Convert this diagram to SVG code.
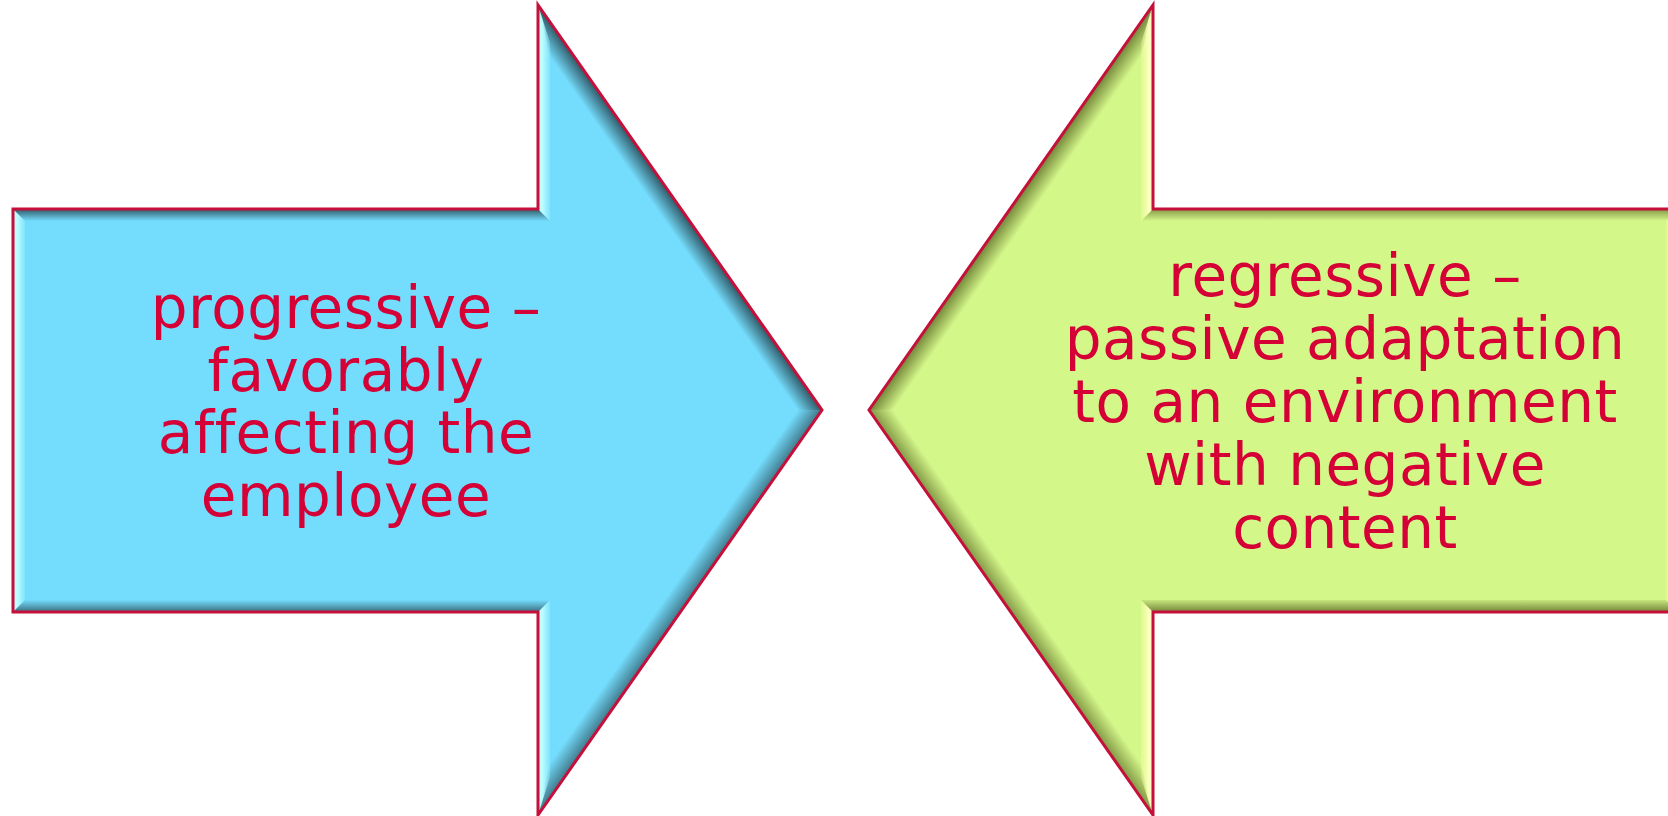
<svg xmlns="http://www.w3.org/2000/svg" width="1668" height="816" viewBox="0 0 1668 816">
  <style>
    .outline { fill: none; stroke: #c4103a; stroke-width: 3; stroke-linejoin: miter; }
    .label { font-family: "DejaVu Sans", "Liberation Sans", sans-serif; font-size: 58px; letter-spacing: 0.5px; fill: #d40036; text-anchor: middle; }
  </style>
  <defs>
    <linearGradient id="bLightL" gradientUnits="userSpaceOnUse" x1="13" y1="0" x2="26" y2="0">
      <stop offset="0" stop-color="#e0ffff" stop-opacity="0.8"/>
      <stop offset="0.35" stop-color="#c0ffff" stop-opacity="0.95"/>
      <stop offset="1" stop-color="#a0f8ff" stop-opacity="0.2"/>
    </linearGradient>
    <linearGradient id="bLightH" gradientUnits="userSpaceOnUse" x1="538" y1="0" x2="551" y2="0">
      <stop offset="0" stop-color="#e0ffff" stop-opacity="0.8"/>
      <stop offset="0.35" stop-color="#c0ffff" stop-opacity="0.95"/>
      <stop offset="1" stop-color="#a0f8ff" stop-opacity="0.2"/>
    </linearGradient>
    <linearGradient id="darkTop" gradientUnits="userSpaceOnUse" x1="0" y1="209" x2="0" y2="221">
      <stop offset="0" stop-color="#000" stop-opacity="0.6"/>
      <stop offset="1" stop-color="#000" stop-opacity="0"/>
    </linearGradient>
    <linearGradient id="darkBot" gradientUnits="userSpaceOnUse" x1="0" y1="612" x2="0" y2="600">
      <stop offset="0" stop-color="#000" stop-opacity="0.5"/>
      <stop offset="1" stop-color="#000" stop-opacity="0"/>
    </linearGradient>
    <linearGradient id="darkDiagU" gradientUnits="userSpaceOnUse" x1="680" y1="207.5" x2="663.6" y2="219">
      <stop offset="0" stop-color="#000" stop-opacity="0.6"/>
      <stop offset="1" stop-color="#000" stop-opacity="0"/>
    </linearGradient>
    <linearGradient id="darkDiagD" gradientUnits="userSpaceOnUse" x1="680" y1="612.5" x2="663.6" y2="601">
      <stop offset="0" stop-color="#000" stop-opacity="0.45"/>
      <stop offset="1" stop-color="#000" stop-opacity="0"/>
    </linearGradient>
    <linearGradient id="gLightL" gradientUnits="userSpaceOnUse" x1="13" y1="0" x2="26" y2="0">
      <stop offset="0" stop-color="#ffffd8" stop-opacity="0.8"/>
      <stop offset="0.35" stop-color="#ffffc0" stop-opacity="0.95"/>
      <stop offset="1" stop-color="#f4ffa0" stop-opacity="0.2"/>
    </linearGradient>
    <linearGradient id="gLightH" gradientUnits="userSpaceOnUse" x1="538" y1="0" x2="551" y2="0">
      <stop offset="0" stop-color="#ffffd8" stop-opacity="0.8"/>
      <stop offset="0.35" stop-color="#ffffc0" stop-opacity="0.95"/>
      <stop offset="1" stop-color="#f4ffa0" stop-opacity="0.2"/>
    </linearGradient>
    <linearGradient id="gDarkTop" gradientUnits="userSpaceOnUse" x1="0" y1="209" x2="0" y2="221">
      <stop offset="0" stop-color="#303800" stop-opacity="0.5"/>
      <stop offset="1" stop-color="#303800" stop-opacity="0"/>
    </linearGradient>
    <linearGradient id="gDarkBot" gradientUnits="userSpaceOnUse" x1="0" y1="612" x2="0" y2="598">
      <stop offset="0" stop-color="#303800" stop-opacity="0.6"/>
      <stop offset="1" stop-color="#303800" stop-opacity="0"/>
    </linearGradient>
    <linearGradient id="gDarkDiagU" gradientUnits="userSpaceOnUse" x1="680" y1="207.5" x2="663.6" y2="219">
      <stop offset="0" stop-color="#303800" stop-opacity="0.6"/>
      <stop offset="1" stop-color="#303800" stop-opacity="0"/>
    </linearGradient>
    <linearGradient id="gDarkDiagD" gradientUnits="userSpaceOnUse" x1="680" y1="612.5" x2="663.6" y2="601">
      <stop offset="0" stop-color="#303800" stop-opacity="0.5"/>
      <stop offset="1" stop-color="#303800" stop-opacity="0"/>
    </linearGradient>
  </defs>

  <g id="node-progressive">
    <polygon points="13,209 538,209 538,5 822,410 538,815 538,612 13,612" fill="#74dcfc"/>
    <polygon points="538,5 822,410 797.6,410 550,57" fill="url(#darkDiagU)"/>
    <polygon points="822,410 538,815 550,763 797.6,410" fill="url(#darkDiagD)"/>
    <polygon points="13,612 13,209 25,221 25,600" fill="url(#bLightL)"/>
    <polygon points="13,209 538,209 550,221 25,221" fill="url(#darkTop)"/>
    <polygon points="538,209 538,5 550,43 550,221" fill="url(#bLightH)"/>
    <polygon points="538,815 538,612 550,600 550,777" fill="url(#bLightH)"/>
    <polygon points="538,612 13,612 25,600 550,600" fill="url(#darkBot)"/>
    <polygon class="outline" points="13,209 538,209 538,5 822,410 538,815 538,612 13,612"/>
    <text class="label" x="346" y="328">progressive –</text>
    <text class="label" x="346" y="391">favorably</text>
    <text class="label" x="346" y="453">affecting the</text>
    <text class="label" x="346" y="516">employee</text>
  </g>

  <g id="node-regressive">
    <g transform="translate(1691,0) scale(-1,1)">
      <polygon points="13,209 538,209 538,5 822,410 538,815 538,612 13,612" fill="#d4f78a"/>
      <polygon points="538,5 822,410 797.6,410 550,57" fill="url(#gDarkDiagU)"/>
      <polygon points="822,410 538,815 550,763 797.6,410" fill="url(#gDarkDiagD)"/>
      <polygon points="13,612 13,209 25,221 25,600" fill="url(#gLightL)"/>
      <polygon points="13,209 538,209 550,221 25,221" fill="url(#gDarkTop)"/>
      <polygon points="538,209 538,5 550,43 550,221" fill="url(#gLightH)"/>
      <polygon points="538,815 538,612 550,600 550,777" fill="url(#gLightH)"/>
      <polygon points="538,612 13,612 25,600 550,600" fill="url(#gDarkBot)"/>
      <polygon class="outline" points="13,209 538,209 538,5 822,410 538,815 538,612 13,612"/>
    </g>
    <text class="label" x="1345" y="296">regressive –</text>
    <text class="label" x="1345" y="359">passive adaptation</text>
    <text class="label" x="1345" y="422">to an environment</text>
    <text class="label" x="1345" y="485">with negative</text>
    <text class="label" x="1345" y="548">content</text>
  </g>

  <g id="connectors"></g>
</svg>
